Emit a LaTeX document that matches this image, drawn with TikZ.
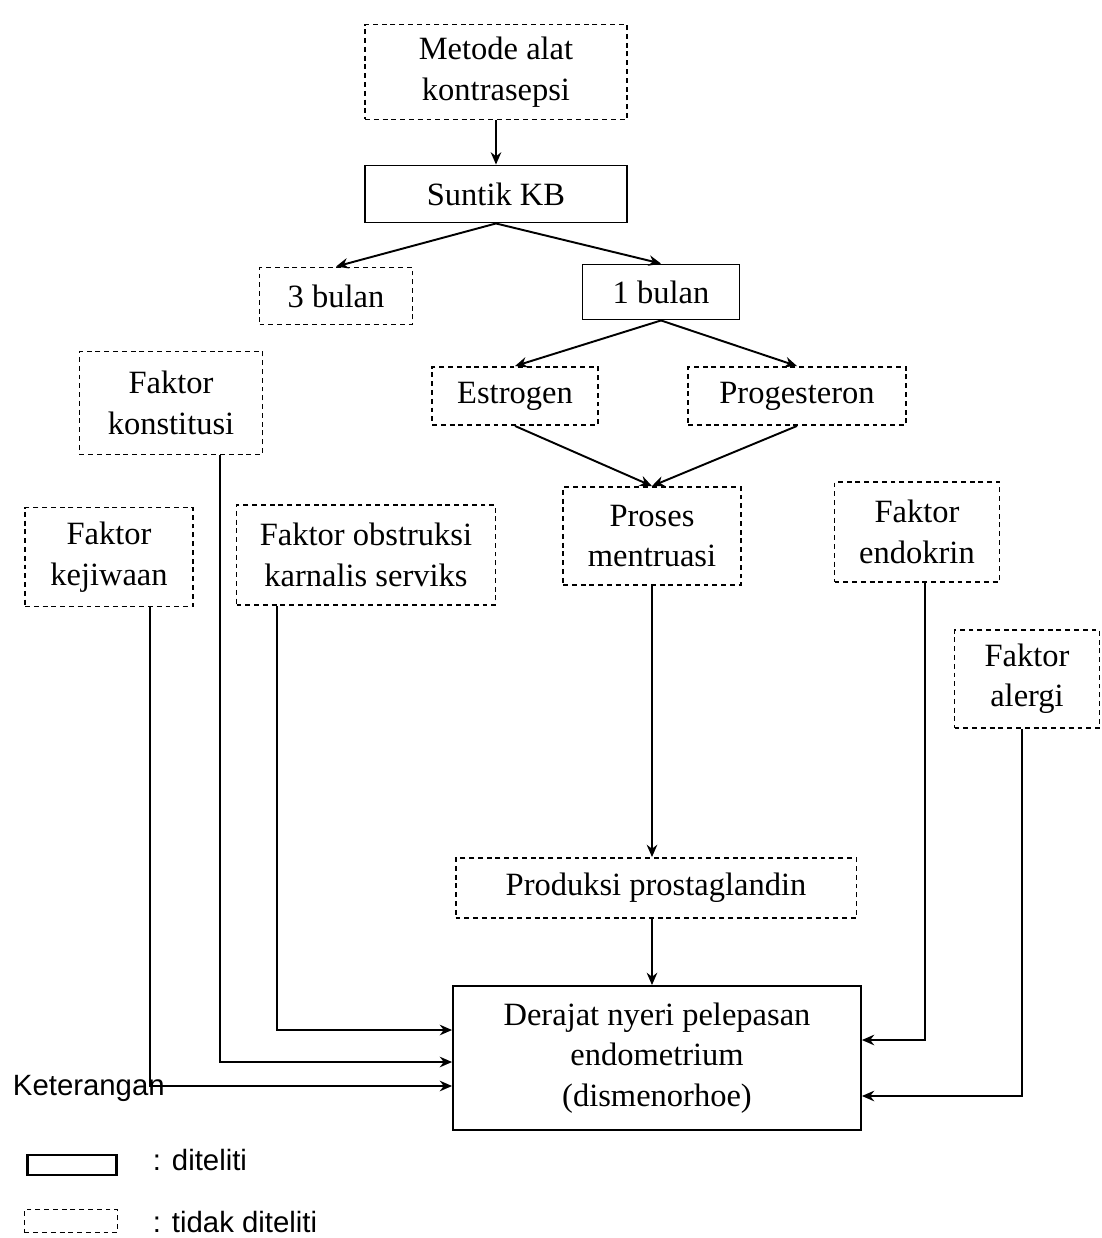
\documentclass[tikz,border=0pt]{standalone}
\usepackage{fontspec}
\setmainfont{Liberation Serif}
\setsansfont{Liberation Sans}
\usetikzlibrary{arrows.meta}

\begin{document}
\begin{tikzpicture}[x=0.02cm, y=-0.02cm,
      box/.style={
        rectangle,
        draw,
        line width=1.1pt,
        align=center,
        inner sep=0pt,
        font=\fontsize{18.5}{23}\selectfont
      },
      dbox/.style={box, dash pattern=on 2.8pt off 2.2pt},
      legend/.style={font=\sffamily\fontsize{16.7}{20}\selectfont, inner sep=0pt},
      >={Stealth[length=7pt,width=6pt]},
      line width=1.1pt]

    \useasboundingbox (0,0) rectangle (1102,1238);

    \node[dbox, minimum width=5.24cm, minimum height=1.9cm] (metode) at (496,72) {Metode alat\\kontrasepsi};
    \node[box, minimum width=5.24cm, minimum height=1.14cm] (suntik) at (496,194) {Suntik KB};
    \node[dbox, minimum width=3.06cm, minimum height=1.14cm] (tiga) at (336,296) {3 bulan};
    \node[box, minimum width=3.14cm, minimum height=1.1cm] (satu) at (661,292) {1 bulan};
    \node[dbox, minimum width=3.66cm, minimum height=2.06cm] (konstitusi) at (171,403) {Faktor\\konstitusi};
    \node[dbox, minimum width=3.32cm, minimum height=1.16cm] (estrogen) at (515,396) {Estrogen};
    \node[dbox, minimum width=4.36cm, minimum height=1.16cm] (progesteron) at (797,396) {Progesteron};
    \node[dbox, minimum width=3.36cm, minimum height=1.98cm] (kejiwaan) at (109,557) {Faktor\\kejiwaan};
    \node[dbox, minimum width=5.18cm, minimum height=2cm] (obstruksi) at (366,555) {Faktor obstruksi\\karnalis serviks};
    \node[dbox, minimum width=3.56cm, minimum height=1.96cm] (proses) at (652,536) {Proses\\mentruasi};
    \node[dbox, minimum width=3.3cm, minimum height=2cm] (endokrin) at (917,532) {Faktor\\endokrin};
    \node[dbox, minimum width=2.9cm, minimum height=1.96cm] (alergi) at (1027,679) {Faktor\\alergi};
    \node[dbox, minimum width=8.02cm, minimum height=1.2cm] (produksi) at (656,888) {Produksi prostaglandin};
    \node[box, minimum width=8.16cm, minimum height=2.88cm] (derajat) at (657,1058) {Derajat nyeri pelepasan\\endometrium\\(dismenorhoe)};

    \node[legend, anchor=west] (keterangan) at (12,1088) {Keterangan};
    \node[draw, line width=1.4pt, minimum width=1.78cm, minimum height=0.4cm] (legsolid) at (72,1165) {};
    \node[draw, dash pattern=on 2.8pt off 2.2pt, minimum width=1.86cm, minimum height=0.46cm] (legdash) at (71,1221) {};
    \node[legend, anchor=west] (legtextsolid) at (152,1160) {: diteliti};
    \node[legend, anchor=west] (legtextdash) at (152,1222) {: tidak diteliti};

    \draw[->] (metode) -- (suntik);
    \draw[->] (suntik.south) -- (tiga.north);
    \draw[->] (suntik.south) -- (satu.north);
    \draw[->] (satu.south) -- (estrogen.north);
    \draw[->] (satu.south) -- (progesteron.north);
    \draw[->] (estrogen.south) -- (proses.north);
    \draw[->] (progesteron.south) -- (proses.north);
    \draw[->] (proses.south) -- (proses.south |- produksi.north);
    \draw[->] (produksi.south -| proses.south) -- (proses.south |- derajat.north);
    \draw[->] ([xshift=-1.78cm]obstruksi.south) |- ([yshift=0.56cm]derajat.west);
    \draw[->] ([xshift=0.98cm]konstitusi.south) |- ([yshift=-0.08cm]derajat.west);
    \draw[->] ([xshift=0.82cm]kejiwaan.south) |- ([yshift=-0.56cm]derajat.west);
    \draw[->] ([xshift=0.16cm]endokrin.south) |- ([yshift=0.36cm]derajat.east);
    \draw[->] ([xshift=-0.1cm]alergi.south) |- ([yshift=-0.76cm]derajat.east);
  \end{tikzpicture}
\end{document}
